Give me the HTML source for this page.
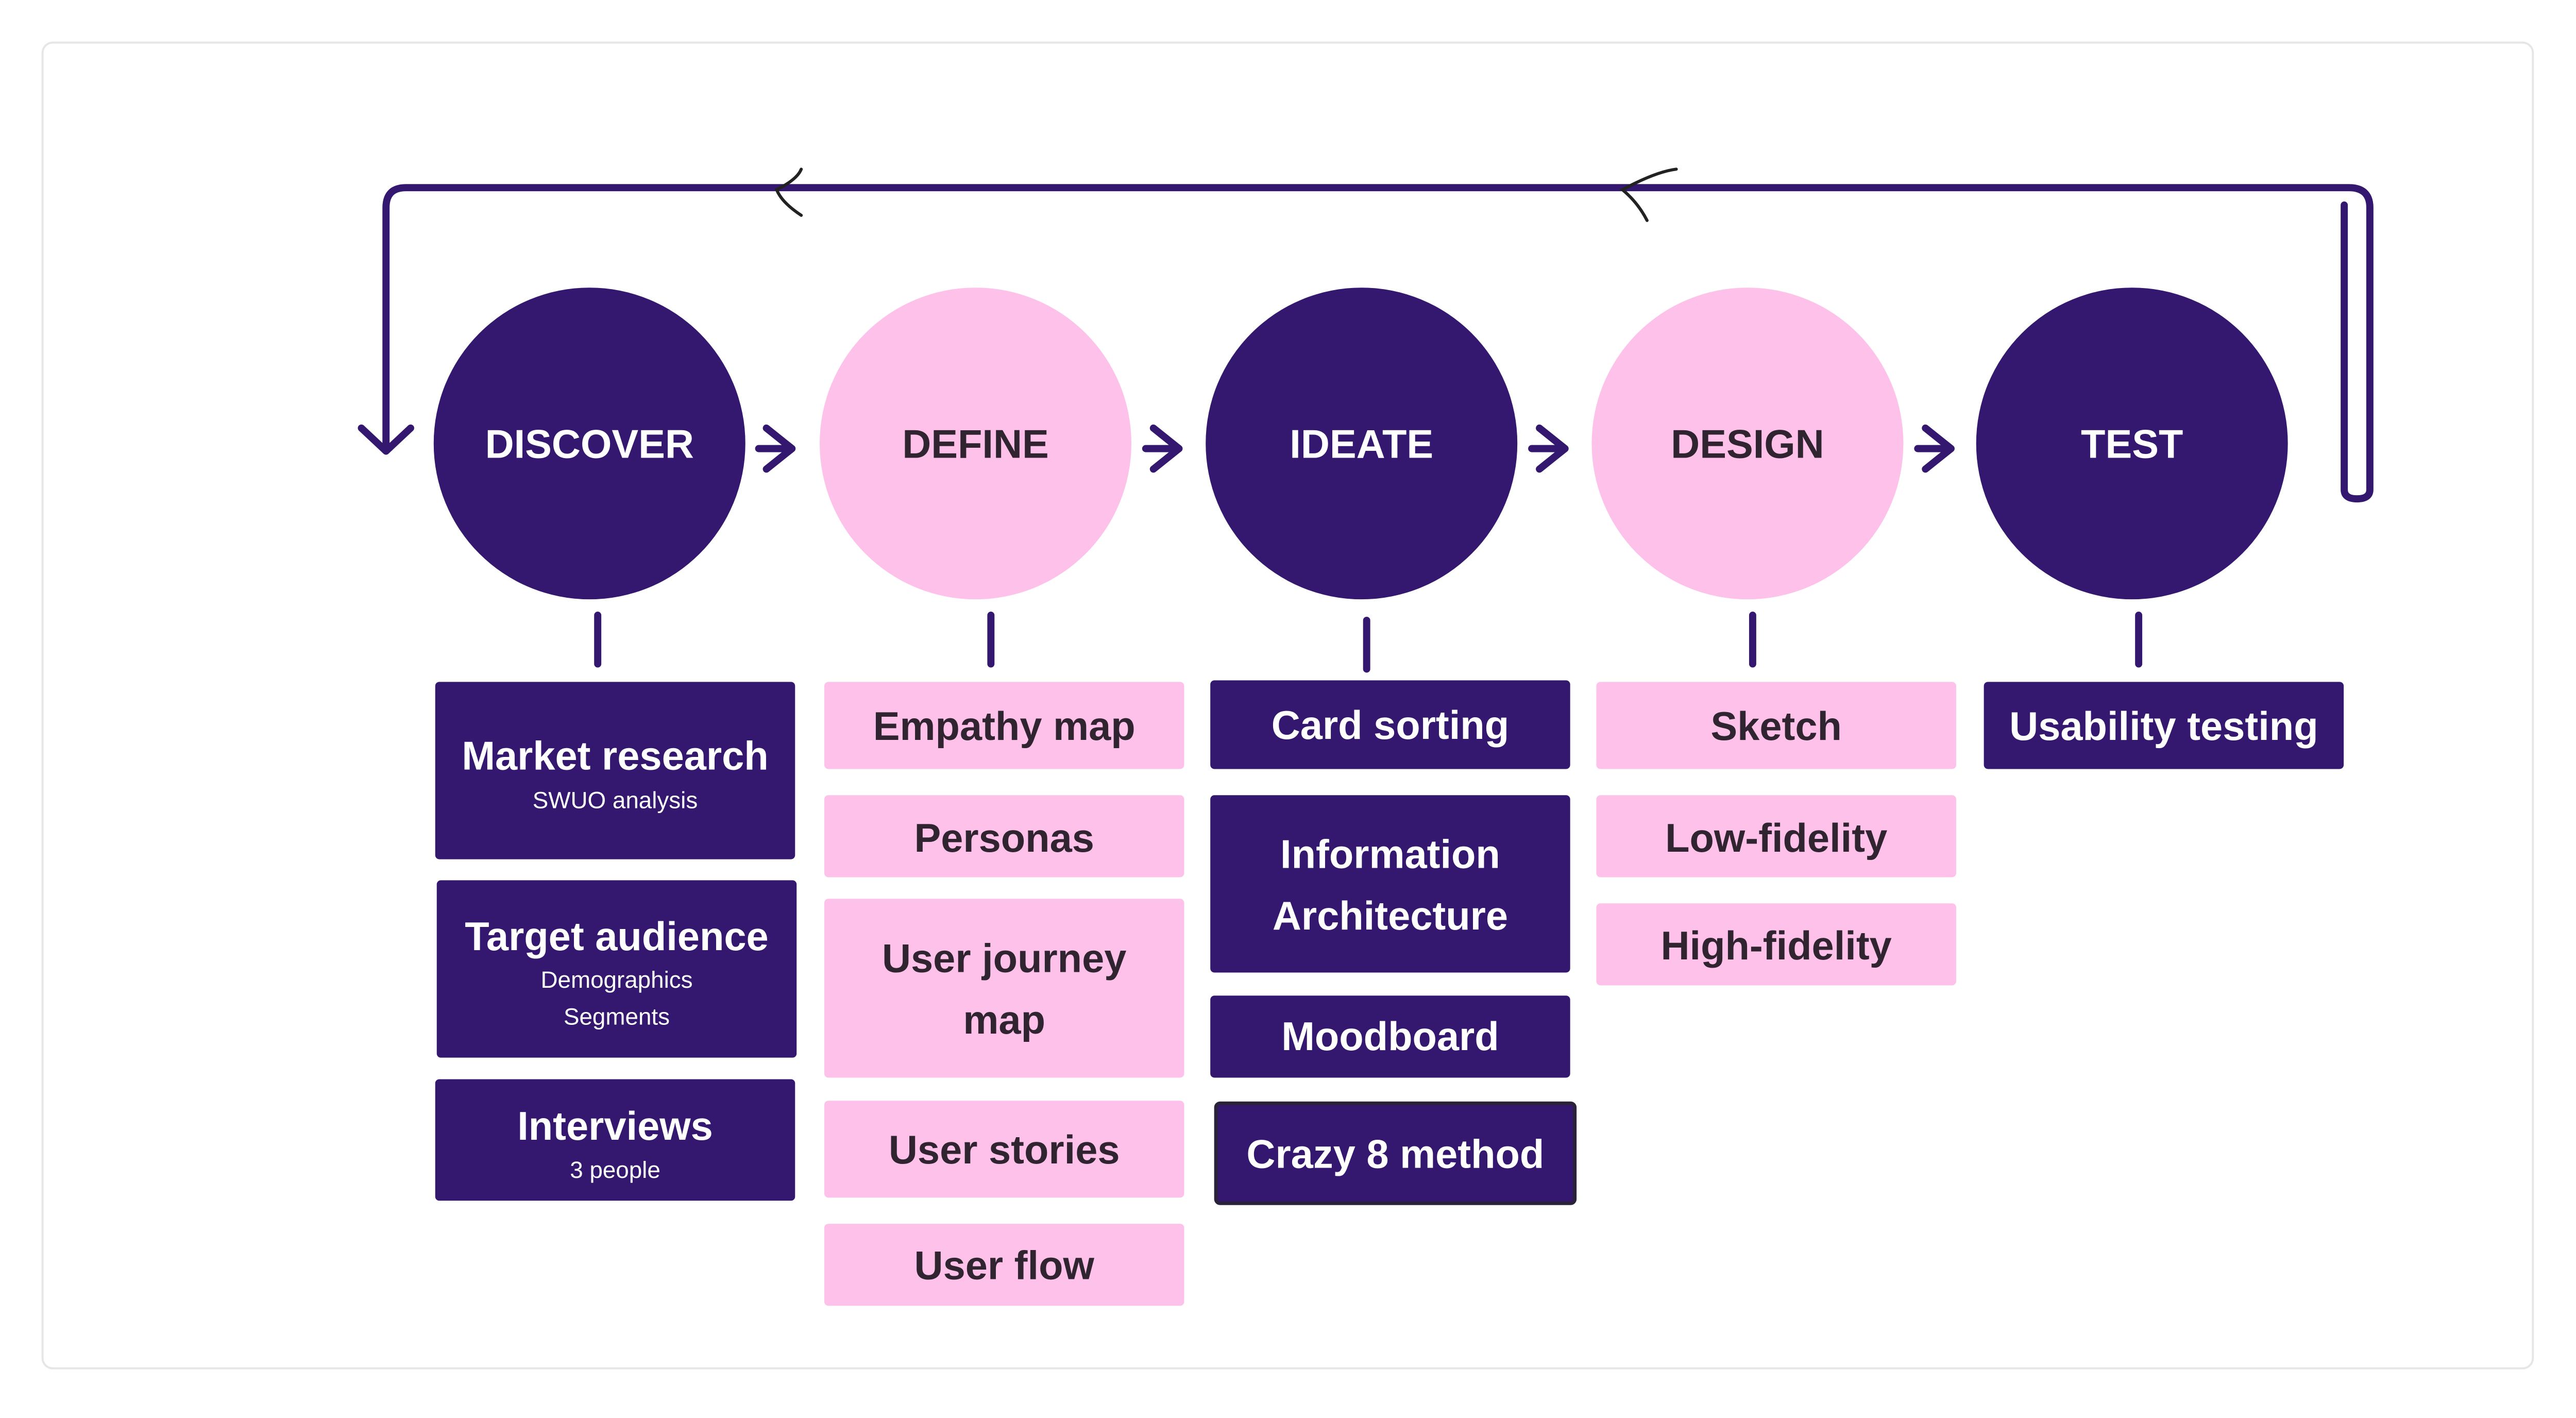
<!DOCTYPE html>
<html><head><meta charset="utf-8"><style>
html,body{margin:0;padding:0;background:#fff}
svg{display:block}
text{font-family:"Liberation Sans",sans-serif;font-weight:bold;text-anchor:middle;dominant-baseline:central}
</style></head><body>
<svg width="5024" height="2752" viewBox="0 0 5024 2752" xmlns="http://www.w3.org/2000/svg">
<g transform="scale(0.995)">
<rect x="83" y="83" width="4858" height="2586" rx="20" fill="#fff" stroke="#e6e6e6" stroke-width="4"/>
<g fill="none" stroke="#341870" stroke-width="14" stroke-linecap="round" stroke-linejoin="round">
<path d="M753 870 V405 Q753 366 792 366 H4582 Q4623 366 4623 405 V955 Q4623 973 4598 973 Q4573 973 4573 955 V400"/>
<path d="M705 835 L753 880 L801 835"/>
<path d="M1495 835 L1545 875 L1495 915 M1480 875 H1545"/>
<path d="M2250 835 L2300 875 L2250 915 M2235 875 H2300"/>
<path d="M3003 835 L3053 875 L3003 915 M2988 875 H3053"/>
<path d="M3756 835 L3806 875 L3756 915 M3741 875 H3806"/>
<path d="M1166 1200 V1295 M1933 1200 V1295 M2666 1210 V1305 M3419 1200 V1295 M4172 1200 V1295"/>
</g>
<g fill="none" stroke="#222" stroke-width="6" stroke-linecap="round">
<path d="M1563 330 Q1555 350 1515 370 Q1525 395 1563 420"/>
<path d="M3270 330 Q3230 335 3165 370 Q3195 395 3213 430"/>
</g>
<circle cx="1150" cy="865" r="304" fill="#341870"/>
<circle cx="1903" cy="865" r="304" fill="#FDC1EA"/>
<circle cx="2656" cy="865" r="304" fill="#341870"/>
<circle cx="3409" cy="865" r="304" fill="#FDC1EA"/>
<circle cx="4159" cy="865" r="304" fill="#341870"/>
<g font-size="78">
<text x="1150" y="867" fill="#fff">DISCOVER</text>
<text x="1903" y="867" fill="#2f2430">DEFINE</text>
<text x="2656" y="867" fill="#fff">IDEATE</text>
<text x="3409" y="867" fill="#2f2430">DESIGN</text>
<text x="4159" y="867" fill="#fff">TEST</text>
</g>
<g fill="#341870">
<rect x="849" y="1330" width="702" height="346" rx="8"/>
<rect x="852" y="1717" width="702" height="346" rx="8"/>
<rect x="849" y="2105" width="702" height="237" rx="8"/>
<rect x="2361" y="1327" width="702" height="173" rx="8"/>
<rect x="2361" y="1551" width="702" height="346" rx="8"/>
<rect x="2361" y="1942" width="702" height="160" rx="8"/>
<rect x="2372" y="2152" width="700" height="195" rx="8" stroke="#2a2238" stroke-width="7"/>
<rect x="3870" y="1330" width="702" height="170" rx="8"/>
</g>
<g fill="#FDC1EA">
<rect x="1608" y="1330" width="702" height="170" rx="8"/>
<rect x="1608" y="1551" width="702" height="160" rx="8"/>
<rect x="1608" y="1753" width="702" height="349" rx="8"/>
<rect x="1608" y="2147" width="702" height="189" rx="8"/>
<rect x="1608" y="2387" width="702" height="160" rx="8"/>
<rect x="3114" y="1330" width="702" height="170" rx="8"/>
<rect x="3114" y="1551" width="702" height="160" rx="8"/>
<rect x="3114" y="1762" width="702" height="160" rx="8"/>
</g>
<g font-size="78" fill="#fff">
<text x="1200" y="1475">Market research</text>
<text x="1203" y="1827">Target audience</text>
<text x="1200" y="2197">Interviews</text>
<text x="2712" y="1415">Card sorting</text>
<text x="2712" y="1667">Information</text>
<text x="2712" y="1787">Architecture</text>
<text x="2712" y="2022">Moodboard</text>
<text x="2722" y="2252">Crazy 8 method</text>
<text x="4221" y="1417">Usability testing</text>
</g>
<g font-size="46" fill="#fff">
<text x="1200" y="1561" style="font-weight:normal">SWUO analysis</text>
<text x="1203" y="1911" style="font-weight:normal">Demographics</text>
<text x="1203" y="1983" style="font-weight:normal">Segments</text>
<text x="1200" y="2282" style="font-weight:normal">3 people</text>
</g>
<g font-size="78" fill="#2f2430">
<text x="1959" y="1417">Empathy map</text>
<text x="1959" y="1635">Personas</text>
<text x="1959" y="1870">User journey</text>
<text x="1959" y="1990">map</text>
<text x="1959" y="2243">User stories</text>
<text x="1959" y="2469">User flow</text>
<text x="3465" y="1417">Sketch</text>
<text x="3465" y="1635">Low-fidelity</text>
<text x="3465" y="1845">High-fidelity</text>
</g>
</g>
</svg>
</body></html>
